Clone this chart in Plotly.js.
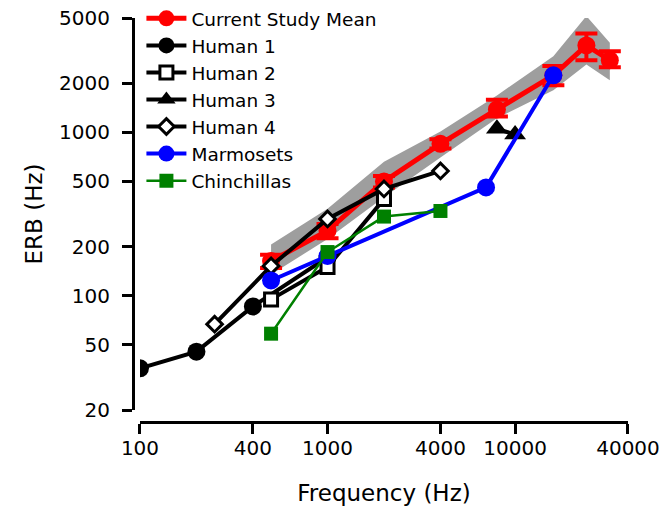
<!DOCTYPE html>
<html>
<head>
<meta charset="utf-8">
<script src="https://cdn.plot.ly/plotly-3.0.1.min.js"></script>
<style>html,body{margin:0;padding:0;background:#fff;}#chart{width:670px;height:508px;}</style>
</head>
<body>
<div id="chart"></div>
<script>
// Current study (mean ERB with error bars and gray band)
const studyFreq = [500, 1000, 2000, 4000, 8000, 16000, 24000, 32000];
const studyMean = [163, 250, 500, 850, 1380, 2230, 3400, 2760];
const studyErrPlus = [15, 25, 40, 55, 200, 310, 620, 370];
const studyErrMinus = [15, 25, 40, 55, 130, 290, 640, 260];
const bandUpper = [206, 340, 660, 1010, 1680, 2920, 5140, 3530];
const bandLower = [135, 222, 400, 700, 1220, 1810, 2600, 2080];

const human1Freq = [100, 200, 400, 1000];
const human1Erb = [36, 45.5, 86, 172];
const human2Freq = [500, 1000, 2000];
const human2Erb = [95, 150, 390];
const human3Freq = [8000, 10000];
const human3Erb = [1050, 970];
const human4Freq = [250, 500, 1000, 2000, 4000];
const human4Erb = [67, 152, 295, 450, 580];
const marmFreq = [500, 1000, 7000, 16000];
const marmErb = [124, 175, 460, 2230];
const chinFreq = [500, 1000, 2000, 4000];
const chinErb = [58.6, 185, 305, 330];

const xTicks = [100, 400, 1000, 4000, 10000, 40000];
const yTicks = [20, 50, 100, 200, 500, 1000, 2000, 5000];

const FONT = 'DejaVu Sans, Liberation Sans, Arial, sans-serif';

const traces = [
  {
    x: studyFreq.concat(studyFreq.slice().reverse()),
    y: bandUpper.concat(bandLower.slice().reverse()),
    type: 'scatter', mode: 'lines', fill: 'toself',
    fillcolor: 'rgb(158,158,158)', line: {width: 0, color: 'rgba(0,0,0,0)'},
    showlegend: false, hoverinfo: 'skip'
  },
  {
    name: 'Current Study Mean', legendgroup: 'a',
    x: studyFreq, y: studyMean, type: 'scatter', mode: 'lines+markers',
    line: {color: '#ff0000', width: 5},
    marker: {symbol: 'circle', size: 18, color: '#ff0000'},
    error_y: {type: 'data', array: studyErrPlus, arrayminus: studyErrMinus,
      color: '#ff0000', thickness: 4, width: 11, visible: true}
  },
  {
    name: 'Human 1', legendgroup: 'b',
    x: human1Freq, y: human1Erb, type: 'scatter', mode: 'lines+markers',
    line: {color: '#000', width: 4},
    marker: {symbol: 'circle', size: 18, color: '#000'}
  },
  {
    name: 'Human 2', legendgroup: 'c',
    x: human2Freq, y: human2Erb, type: 'scatter', mode: 'lines+markers',
    line: {color: '#000', width: 4},
    marker: {symbol: 'square', size: 13, color: '#fff', line: {color: '#000', width: 3}}
  },
  {
    name: 'Human 3', legendgroup: 'd',
    x: human3Freq, y: human3Erb, type: 'scatter', mode: 'lines+markers',
    line: {color: '#000', width: 4},
    marker: {symbol: 'triangle-up', size: 19, color: '#000'}
  },
  {
    name: 'Human 4', legendgroup: 'e',
    x: human4Freq, y: human4Erb, type: 'scatter', mode: 'lines+markers',
    line: {color: '#000', width: 4},
    marker: {symbol: 'diamond', size: 12, color: '#fff', line: {color: '#000', width: 3}}
  },
  {
    name: 'Marmosets', legendgroup: 'f',
    x: marmFreq, y: marmErb, type: 'scatter', mode: 'lines+markers',
    line: {color: '#0000ff', width: 4},
    marker: {symbol: 'circle', size: 18, color: '#0000ff'}
  },
  {
    name: 'Chinchillas', legendgroup: 'g',
    x: chinFreq, y: chinErb, type: 'scatter', mode: 'lines+markers',
    line: {color: '#008000', width: 2.5},
    marker: {symbol: 'square', size: 14, color: '#008000'}
  }
];

const layout = {
  width: 670, height: 508,
  paper_bgcolor: '#fff', plot_bgcolor: '#fff',
  margin: {l: 133, r: 42, t: 18, b: 86, autoexpand: false},
  font: {family: FONT, size: 18, color: '#000'},
  showlegend: true,
  legend: {x: 0.017, y: 1.045, xanchor: 'left', yanchor: 'top',
    bgcolor: 'rgba(0,0,0,0)', font: {family: FONT, size: 18.5, color: '#000'},
    itemwidth: 40, tracegroupgap: 4.3, traceorder: 'normal'},
  xaxis: {
    type: 'log', range: [Math.log10(100), Math.log10(40000)],
    domain: [0.0141, 1], anchor: 'free', position: 0,
    tickvals: xTicks, ticktext: xTicks.map(String),
    showgrid: false, zeroline: false, showline: true, linewidth: 3, linecolor: '#000',
    ticks: 'outside', ticklen: 10, tickwidth: 3, tickcolor: '#000',
    ticklabelstandoff: -3,
    tickfont: {family: FONT, size: 20, color: '#000'},
    title: {text: 'Frequency (Hz)', font: {family: FONT, size: 23, color: '#000'}, standoff: 25}
  },
  yaxis: {
    type: 'log', range: [Math.log10(20), Math.log10(5000)],
    domain: [0.0297, 1], anchor: 'free', position: 0,
    tickvals: yTicks, ticktext: yTicks.map(String),
    showgrid: false, zeroline: false, showline: true, linewidth: 3, linecolor: '#000',
    ticks: 'outside', ticklen: 10, tickwidth: 3, tickcolor: '#000',
    ticklabelstandoff: 8,
    tickfont: {family: FONT, size: 20, color: '#000'},
    title: {text: 'ERB (Hz)', font: {family: FONT, size: 23, color: '#000'}, standoff: 9}
  }
};

Plotly.newPlot('chart', traces, layout, {displayModeBar: false, staticPlot: true});
</script>
</body>
</html>
